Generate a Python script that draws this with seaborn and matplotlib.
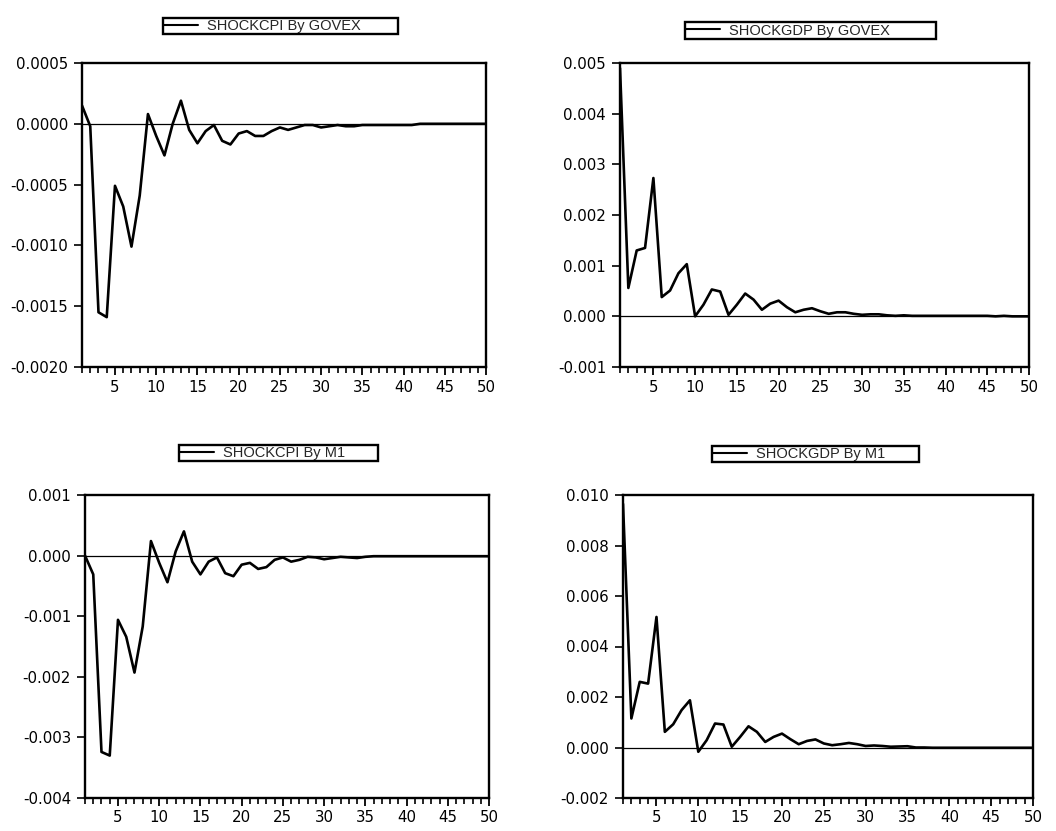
import numpy as np
import pandas as pd
import matplotlib
matplotlib.use("Agg")
import matplotlib.pyplot as plt
from matplotlib.ticker import FixedLocator, MultipleLocator
import seaborn as sns

# Horizon (periods after the shock)
periods = list(range(1, 51))

# Impulse responses
cpi_govex = [0.00015, -0.00002, -0.00155, -0.00159, -0.00051, -0.00068, -0.00101, -0.00059, 0.00008, -0.00010,
             -0.00026, 0.00000, 0.00019, -0.00005, -0.00016, -0.00006, -0.00001, -0.00014, -0.00017, -0.00008,
             -0.00006, -0.00010, -0.00010, -0.00006, -0.00003, -0.00005, -0.00003, -0.00001, -0.00001, -0.00003,
             -0.00002, -0.00001, -0.00002, -0.00002, -0.00001, -0.00001, -0.00001, -0.00001, -0.00001, -0.00001,
             -0.00001, 0.00000, 0.00000, 0.00000, 0.00000, 0.00000, 0.00000, 0.00000, 0.00000, 0.00000]

gdp_govex = [0.00490, 0.00056, 0.00130, 0.00135, 0.00273, 0.00038, 0.00051, 0.00085, 0.00103, 0.00000,
             0.00023, 0.00053, 0.00049, 0.00003, 0.00023, 0.00045, 0.00033, 0.00013, 0.00025, 0.00031,
             0.00018, 0.00008, 0.00013, 0.00016, 0.00010, 0.00005, 0.00008, 0.00008, 0.00005, 0.00003,
             0.00004, 0.00004, 0.00002, 0.00001, 0.00002, 0.00001, 0.00001, 0.00001, 0.00001, 0.00001,
             0.00001, 0.00001, 0.00001, 0.00001, 0.00001, 0.00000, 0.00001, 0.00000, 0.00000, 0.00000]

cpi_m1 = [0.00000, -0.00031, -0.00324, -0.00330, -0.00106, -0.00134, -0.00193, -0.00117, 0.00024, -0.00012,
          -0.00044, 0.00007, 0.00040, -0.00010, -0.00031, -0.00010, -0.00003, -0.00029, -0.00034, -0.00015,
          -0.00012, -0.00022, -0.00019, -0.00007, -0.00003, -0.00010, -0.00007, -0.00002, -0.00003, -0.00006,
          -0.00004, -0.00002, -0.00003, -0.00004, -0.00002, -0.00001, -0.00001, -0.00001, -0.00001, -0.00001,
          -0.00001, -0.00001, -0.00001, -0.00001, -0.00001, -0.00001, -0.00001, -0.00001, -0.00001, -0.00001]

gdp_m1 = [0.00965, 0.00115, 0.00260, 0.00253, 0.00517, 0.00062, 0.00092, 0.00148, 0.00187, -0.00017,
          0.00029, 0.00095, 0.00091, 0.00003, 0.00042, 0.00084, 0.00062, 0.00022, 0.00042, 0.00055,
          0.00033, 0.00013, 0.00026, 0.00032, 0.00016, 0.00009, 0.00013, 0.00018, 0.00013, 0.00006,
          0.00008, 0.00006, 0.00003, 0.00004, 0.00005, 0.00000, 0.00000, -0.00001, -0.00001, -0.00001,
          -0.00001, -0.00001, -0.00001, -0.00001, -0.00001, -0.00001, -0.00001, -0.00001, -0.00001, -0.00001]

series_names = ["SHOCKCPI By GOVEX", "SHOCKGDP By GOVEX", "SHOCKCPI By M1", "SHOCKGDP By M1"]

# Y-axis ticks and their labels for each panel
yticks_cpi_govex = [-0.0020, -0.0015, -0.0010, -0.0005, 0.0000, 0.0005]
ylabels_cpi_govex = ["-0.0020", "-0.0015", "-0.0010", "-0.0005", "0.0000", "0.0005"]
yticks_gdp_govex = [-0.001, 0.000, 0.001, 0.002, 0.003, 0.004, 0.005]
ylabels_gdp_govex = ["-0.001", "0.000", "0.001", "0.002", "0.003", "0.004", "0.005"]
yticks_cpi_m1 = [-0.004, -0.003, -0.002, -0.001, 0.000, 0.001]
ylabels_cpi_m1 = ["-0.004", "-0.003", "-0.002", "-0.001", "0.000", "0.001"]
yticks_gdp_m1 = [-0.002, 0.000, 0.002, 0.004, 0.006, 0.008, 0.010]
ylabels_gdp_m1 = ["-0.002", "0.000", "0.002", "0.004", "0.006", "0.008", "0.010"]

xticks = [5, 10, 15, 20, 25, 30, 35, 40, 45, 50]
xlabels = ["5", "10", "15", "20", "25", "30", "35", "40", "45", "50"]

sns.set_theme(style="ticks")
plt.rcParams["font.family"] = ["DejaVu Sans"]
plt.rcParams["axes.unicode_minus"] = False

W, H = 1056, 831
fig = plt.figure(figsize=(W / 100, H / 100), dpi=100)
fig.patch.set_facecolor("white")

# axes boxes in pixels: left, top, right, bottom
boxes = [(82, 63, 486, 367), (620, 63, 1029, 367), (85, 495, 489, 798), (623, 495, 1033, 798)]
# legend boxes in pixels: left, top, right, bottom
legend_boxes = [(163, 16, 398, 36), (685, 20, 936, 41), (179, 442, 378, 464), (712, 444, 919, 464)]

panels = [
    (cpi_govex, yticks_cpi_govex, ylabels_cpi_govex),
    (gdp_govex, yticks_gdp_govex, ylabels_gdp_govex),
    (cpi_m1, yticks_cpi_m1, ylabels_cpi_m1),
    (gdp_m1, yticks_gdp_m1, ylabels_gdp_m1),
]

for (vals, yt, yl), name, (l, t, r, b), (ll, lt, lr, lb) in zip(panels, series_names, boxes, legend_boxes):
    ax = fig.add_axes([l / W, 1 - b / H, (r - l) / W, (b - t) / H])
    df = pd.DataFrame({"period": periods, "response": vals})
    ax.axhline(0, color="black", lw=0.9, zorder=1)
    sns.lineplot(data=df, x="period", y="response", ax=ax, color="black", lw=1.9, label=name, zorder=3)

    ax.set_xlim(1, 50)
    ax.set_ylim(yt[0], yt[-1])
    ax.yaxis.set_major_locator(FixedLocator(yt))
    ax.set_yticklabels(yl)
    ax.xaxis.set_major_locator(FixedLocator(xticks))
    ax.set_xticklabels(xlabels)
    ax.xaxis.set_minor_locator(MultipleLocator(1))
    ax.set_xlabel("")
    ax.set_ylabel("")

    for s in ax.spines.values():
        s.set_visible(True)
        s.set_linewidth(1.7)
        s.set_color("black")
    ax.tick_params(axis="y", which="major", direction="out", length=6, width=1.2,
                   pad=4, labelsize=10.8, colors="black")
    ax.tick_params(axis="x", which="major", direction="out", length=6, width=1.3,
                   pad=3, labelsize=10.8, colors="black")
    ax.tick_params(axis="x", which="minor", direction="out", length=4, width=1.2, colors="black")
    ax.grid(False)

    leg = ax.legend(loc="center", bbox_to_anchor=(ll / W, 1 - lb / H, (lr - ll) / W, (lb - lt) / H),
                    bbox_transform=fig.transFigure, mode="expand", frameon=True, fancybox=False,
                    borderpad=0.1, handlelength=2.3, handletextpad=0.6, borderaxespad=0,
                    prop={"family": "Liberation Sans", "size": 10.5})
    frame = leg.get_frame()
    frame.set_edgecolor("black")
    frame.set_linewidth(1.7)
    frame.set_alpha(1)
    for h in leg.get_lines():
        h.set_linewidth(1.5)

fig.savefig("out.png", dpi=100, facecolor="white")
